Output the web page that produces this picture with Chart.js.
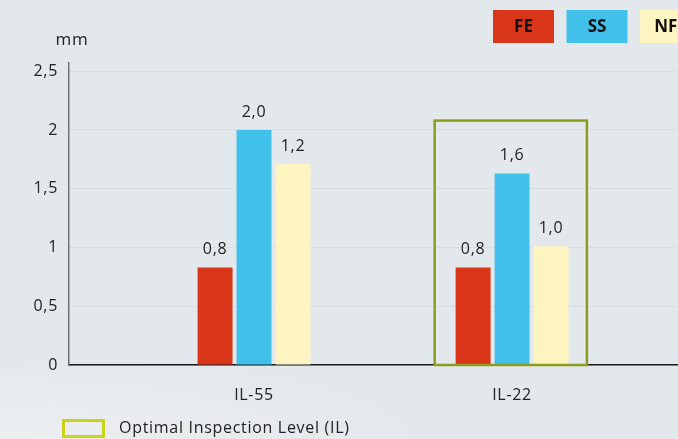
<!DOCTYPE html>
<html>
<head>
<meta charset="utf-8">
<script src="https://cdn.jsdelivr.net/npm/chart.js@4/dist/chart.umd.min.js"></script>
<style>
    html, body { margin: 0; padding: 0; }
    body {
        width: 678px;
        height: 439px;
        overflow: hidden;
        background: #e3e8ec;
    }
    .wrap { position: relative; width: 678px; height: 439px; }
    .glow {
        position: absolute; left: 0; top: 366px; width: 440px; height: 73px;
        background: radial-gradient(ellipse 440px 90px at 0 100%, rgba(255,255,255,0.32), rgba(255,255,255,0));
    }
    canvas { position: absolute; left: 0; top: 0; }
</style>
</head>
<body>
<div class="wrap">
    <div class="glow"></div>
    <canvas id="chart" width="678" height="439"></canvas>
</div>
<script>
const categories = ['IL-55', 'IL-22'];
const seriesNames = ['FE', 'SS', 'NFE'];
const feValues = [0.83, 0.83];
const ssValues = [2.0, 1.63];
const nfeValues = [1.71, 1.01];
const feLabels = ['0,8', '0,8'];
const ssLabels = ['2,0', '1,6'];
const nfeLabels = ['1,2', '1,0'];
const yTicks = [0, 0.5, 1, 1.5, 2, 2.5];
const yTickLabels = ['0', '0,5', '1', '1,5', '2', '2,5'];
const highlightLabel = 'Optimal Inspection Level (IL)';

const FONT = '"Open Sans", "Noto Sans", sans-serif';
const colors = ['#d93519', '#41c0ea', '#fdf4c1'];

function toPoints(values) {
    return values.map((v, i) => ({ x: i + 1, y: v }));
}

// wider letter spacing, closer to the original typeface
const spacing = {
    id: 'spacing',
    beforeDraw(chart) { chart.ctx.letterSpacing = '0.7px'; }
};

// value labels above each bar
const barLabels = {
    id: 'barLabels',
    afterDatasetsDraw(chart) {
        const ctx = chart.ctx;
        const texts = [feLabels, ssLabels, nfeLabels];
        ctx.save();
        ctx.font = '16px ' + FONT;
        ctx.fillStyle = '#222';
        ctx.textAlign = 'center';
        ctx.textBaseline = 'middle';
        chart.data.datasets.forEach((ds, d) => {
            chart.getDatasetMeta(d).data.forEach((bar, i) => {
                ctx.fillText(texts[d][i], bar.x, bar.y - 18);
            });
        });
        ctx.restore();
    }
};

// box round the optimal level, unit label, legends
const extras = {
    id: 'extras',
    afterDraw(chart) {
        const ctx = chart.ctx;
        const x = chart.scales.x, y = chart.scales.y;

        ctx.save();
        ctx.strokeStyle = '#8d9d1b';
        ctx.lineWidth = 2.5;
        const l = x.getPixelForValue(2 - 0.3), r = x.getPixelForValue(2 + 0.29);
        const t = y.getPixelForValue(2.08), b = y.getPixelForValue(0);
        ctx.strokeRect(l, t, r - l, b - t);

        ctx.fillStyle = '#222';
        ctx.font = '17px ' + FONT;
        ctx.textAlign = 'center';
        ctx.textBaseline = 'middle';
        ctx.fillText('mm', 72, 40);

        // series legend, top right
        ctx.letterSpacing = '0px';
        ctx.font = 'bold 17px ' + FONT;
        seriesNames.forEach((name, i) => {
            const bx = 493 + i * 73.5;
            ctx.fillStyle = colors[i];
            ctx.fillRect(bx, 10, 61, 33);
            ctx.fillStyle = '#111';
            ctx.fillText(name, bx + 30.5, 27);
        });
        ctx.letterSpacing = '0.7px';

        // highlight legend, bottom
        ctx.strokeStyle = '#c9d417';
        ctx.lineWidth = 3;
        ctx.strokeRect(63.5, 420.5, 40, 16);
        ctx.fillStyle = '#222';
        ctx.textAlign = 'left';
        ctx.font = '16px ' + FONT;
        ctx.fillText(highlightLabel, 119, 428);
        ctx.restore();
    }
};

new Chart(document.getElementById('chart'), {
    type: 'bar',
    data: {
        datasets: seriesNames.map((name, i) => ({
            label: name,
            data: toPoints([feValues, ssValues, nfeValues][i]),
            backgroundColor: colors[i],
            categoryPercentage: 0.453,
            barPercentage: 0.897
        }))
    },
    options: {
        responsive: false,
        animation: false,
        layout: { padding: { top: 63, left: 0, right: 0, bottom: 0 } },
        plugins: {
            legend: { display: false },
            tooltip: { enabled: false }
        },
        scales: {
            x: {
                type: 'linear',
                min: 0.283,
                max: 2.643,
                offset: false,
                afterFit: (s) => { s.height = 74; },
                afterBuildTicks: (s) => { s.ticks = categories.map((c, i) => ({ value: i + 1 })); },
                grid: { display: false },
                border: { display: true, color: '#1a1a1a', width: 1.5 },
                ticks: {
                    padding: 13,
                    color: '#222',
                    font: { family: FONT, size: 16 },
                    callback: (v) => categories[v - 1] ?? ''
                }
            },
            y: {
                min: 0,
                max: 2.57,
                afterFit: (s) => { s.width = 69; },
                afterBuildTicks: (s) => { s.ticks = yTicks.map(v => ({ value: v })); },
                grid: { color: '#cdd3d8', lineWidth: 1, drawTicks: false },
                border: { display: true, color: '#707070', width: 1.5, dash: [2, 2] },
                ticks: {
                    padding: 11,
                    color: '#222',
                    font: { family: FONT, size: 16 },
                    callback: (v) => yTickLabels[yTicks.indexOf(v)] ?? ''
                }
            }
        }
    },
    plugins: [spacing, barLabels, extras]
});
</script>
</body>
</html>
